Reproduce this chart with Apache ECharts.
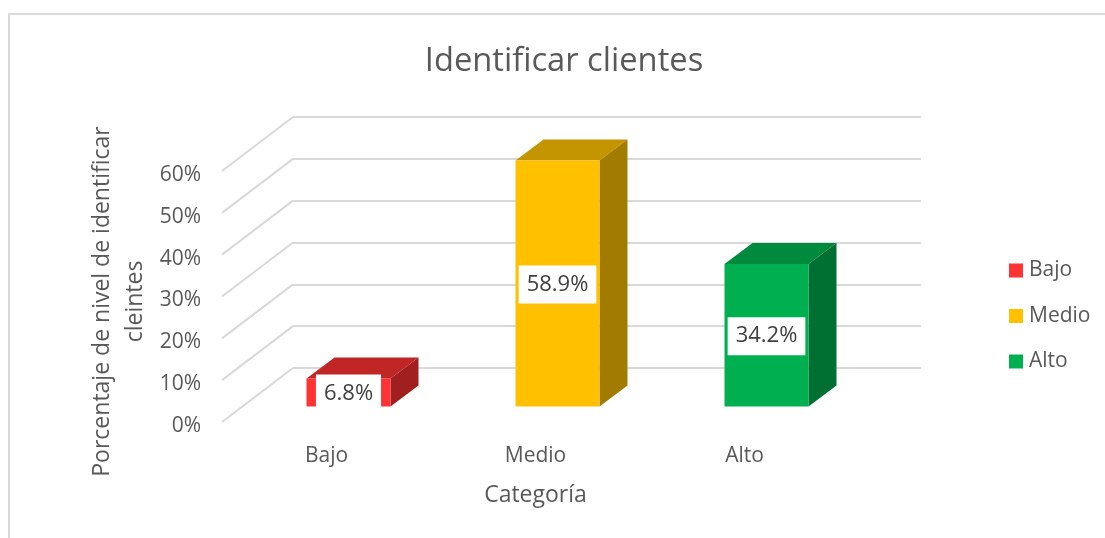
<!DOCTYPE html>
<html>
<head>
<meta charset="utf-8">
<style>html,body{margin:0;padding:0;background:#fff}#c{width:1105px;height:538px}</style>
<script src="https://cdn.jsdelivr.net/npm/echarts@6/dist/echarts.min.js"></script>
</head>
<body>
<div id="c"></div>
<script>
const categories = ['Bajo', 'Medio', 'Alto'];
const values = [6.8, 58.9, 34.2];
const yTicks = [0, 10, 20, 30, 40, 50, 60];
const faceColors = ['#FF3333', '#FFC000', '#00B050'];
const topColors = ['#C02626', '#C49500', '#008A3E'];
const sideColors = ['#A21F1F', '#A27C00', '#006F32'];

const FONT = '"Open Sans", sans-serif';
const TEXT = '#595959';
const chart = echarts.init(document.getElementById('c'), null, {renderer: 'canvas'});

function barSeries(i) {
  return {
    type: 'custom',
    name: categories[i],
    xAxisIndex: 0,
    yAxisIndex: 0,
    itemStyle: {color: faceColors[i]},
    data: [[i, values[i]]],
    clip: false,
    renderItem: function (params, api) {
      const top = api.coord([api.value(0), api.value(1)]);
      const base = api.coord([api.value(0), 0]);
      const ox = 22, oy = -15.5, hw = 42, dx = 28, dy = -21;
      const l = top[0] + ox - hw, r = top[0] + ox + hw;
      const t = top[1] + oy + 0.5, b = base[1] + oy;
      return {
        type: 'group',
        children: [
          {type: 'polygon', shape: {points: [[l, t], [r, t], [r + dx, t + dy], [l + dx, t + dy]]}, style: {fill: topColors[i]}},
          {type: 'polygon', shape: {points: [[r, t], [r + dx, t + dy], [r + dx, b + dy], [r, b]]}, style: {fill: sideColors[i]}},
          {type: 'rect', shape: {x: l, y: t, width: r - l, height: b - t}, style: {fill: faceColors[i]}},
          {type: 'text', z2: 10, style: {
            x: (l + r) / 2, y: (t + b) / 2 + 1,
            text: values[i].toFixed(1) + '%',
            align: 'center', verticalAlign: 'middle',
            fontFamily: FONT, fontSize: 22, fill: '#404040',
            backgroundColor: '#fff', padding: [8, 8, 8, 8]
          }}
        ]
      };
    }
  };
}

const option = {
  animation: false,
  backgroundColor: '#fff',
  title: {
    text: 'Identificar clientes',
    left: 559, top: 35, textAlign: 'center',
    textStyle: {fontFamily: FONT, fontWeight: 'normal', fontSize: 32.7, color: TEXT, lineHeight: 44}
  },
  legend: {
    data: categories, orient: 'vertical', left: 1004, top: 255,
    itemWidth: 14, itemHeight: 14, itemGap: 24.5,
    icon: 'rect',
    textStyle: {fontFamily: FONT, fontSize: 21, color: TEXT, padding: [0, 0, 0, 1], lineHeight: 20},
    selectedMode: false
  },
  grid: [
    {left: 222, top: 171, width: 627, height: 251},
    {left: 293, top: 117, width: 628, height: 251},
    {left: 222, top: 175, width: 627, height: 251}
  ],
  xAxis: [
    {
      type: 'category', gridIndex: 0, data: categories,
      axisLine: {show: false}, axisTick: {show: false},
      axisLabel: {fontFamily: FONT, fontSize: 21, color: TEXT, margin: 24},
      name: 'Categoría', nameLocation: 'middle', nameGap: 62,
      nameTextStyle: {fontFamily: FONT, fontSize: 23, color: TEXT}
    },
    {type: 'category', gridIndex: 1, data: categories, show: false},
    {type: 'category', gridIndex: 2, data: categories, show: false}
  ],
  yAxis: [
    {
      type: 'value', gridIndex: 0, min: 0, max: 60, interval: 10,
      axisLine: {show: false}, axisTick: {show: false}, splitLine: {show: false},
      axisLabel: {show: false},
      name: 'Porcentaje de nivel de identificar\ncleintes',
      nameLocation: 'middle', nameGap: 70, nameRotate: 90,
      nameTextStyle: {fontFamily: FONT, fontSize: 23, color: TEXT, lineHeight: 33, padding: [0, 10, 0, 0]}
    },
    {
      type: 'value', gridIndex: 1, min: 0, max: 60, interval: 10,
      axisLine: {show: false}, axisTick: {show: false}, axisLabel: {show: false},
      splitLine: {show: true, lineStyle: {color: '#D9D9D9', width: 2}}
    },
    {
      type: 'value', gridIndex: 2, min: 0, max: 60, interval: 10,
      axisLine: {show: false}, axisTick: {show: false}, splitLine: {show: false},
      axisLabel: {fontFamily: FONT, fontSize: 21, color: TEXT, margin: 21, formatter: '{value}%'}
    }
  ],
  series: [
    {
      type: 'custom', name: 'pared', silent: true, xAxisIndex: 0, yAxisIndex: 0, clip: false,
      data: yTicks.map(v => [0, v]),
      renderItem: function (params, api) {
        const p = api.coord([0, api.value(1)]);
        const x0 = params.coordSys.x;
        return {type: 'line', shape: {x1: x0, y1: p[1], x2: x0 + 71, y2: p[1] - 54},
          style: {stroke: '#D9D9D9', lineWidth: 2}};
      }
    },
    barSeries(0), barSeries(1), barSeries(2)
  ],
  graphic: [
    {type: 'polyline', silent: true, shape: {points: [[9, 538], [9, 14], [1105, 14]]},
     style: {stroke: '#D9D9D9', lineWidth: 2, fill: null}}
  ]
};
chart.setOption(option);
</script>
</body>
</html>
